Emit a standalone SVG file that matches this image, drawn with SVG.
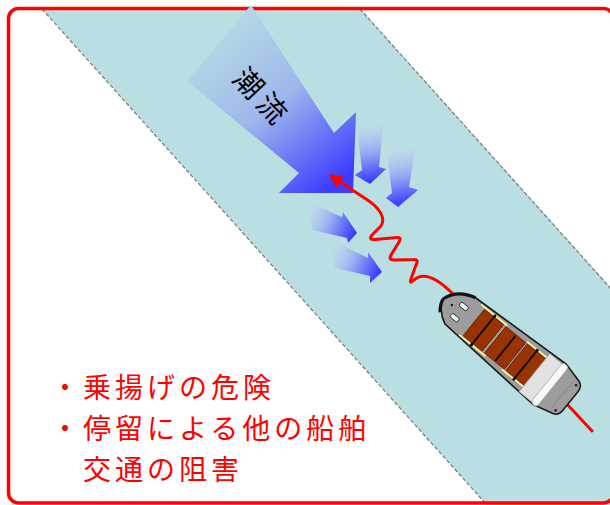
<svg xmlns="http://www.w3.org/2000/svg" width="610" height="505" viewBox="0 0 610 505">
  <defs>
    <style>
      .edge { fill: none; stroke: #808080; stroke-width: 1.3; stroke-dasharray: 4 2; }
      .route { fill: none; stroke: #ff0000; stroke-width: 3; stroke-linejoin: round; stroke-linecap: round; }
      .eddy { filter: url(#soft); }
      .note { font-family: "Noto Sans CJK JP", "Noto Sans", sans-serif; font-size: 28px; letter-spacing: 4px; fill: #ff0000; }
      .label { font-family: "Noto Sans CJK JP", "Noto Sans", sans-serif; font-size: 29px; letter-spacing: 5px; fill: #000; }
      .hatch { fill: #993300; stroke: #6e1a00; stroke-width: 0.8; }
      .rail { stroke: #ffff99; stroke-width: 1.5; stroke-linecap: round; }
      .beam { stroke: #000; stroke-width: 1.6; stroke-linecap: round; }
    </style>
    <linearGradient id="mainFlow" gradientUnits="userSpaceOnUse" x1="219" y1="43" x2="335" y2="185">
      <stop offset="0" stop-color="#b3d6e5"/>
      <stop offset="0.45" stop-color="#9db7ec"/>
      <stop offset="1" stop-color="#3c3cff"/>
    </linearGradient>
    <linearGradient id="flowDown" x1="0" y1="0" x2="0.1" y2="1">
      <stop offset="0" stop-color="#c4d6f2" stop-opacity="0.3"/>
      <stop offset="0.5" stop-color="#93a9f3"/>
      <stop offset="1" stop-color="#3c3cff"/>
    </linearGradient>
    <linearGradient id="flowRight" x1="0" y1="0.2" x2="1" y2="0.6">
      <stop offset="0" stop-color="#c4d6f2" stop-opacity="0.3"/>
      <stop offset="0.5" stop-color="#93a9f3"/>
      <stop offset="1" stop-color="#3c3cff"/>
    </linearGradient>
    <filter id="soft" x="-20%" y="-20%" width="140%" height="140%">
      <feGaussianBlur stdDeviation="0.6"/>
    </filter>
    <marker id="head" markerUnits="userSpaceOnUse" markerWidth="15" markerHeight="13" refX="11" refY="6.5" orient="auto">
      <path d="M0,0 L14,6.5 L0,13 Z" fill="#ff0000"/>
    </marker>
  </defs>

  <!-- navigation channel -->
  <g id="channel">
    <polygon points="42,8.5 360,8.5 612,289 612,505 487,505" fill="#badfe3"/>
    <line class="edge" x1="42" y1="9" x2="487" y2="505"/>
    <line class="edge" x1="360" y1="9" x2="612" y2="290"/>
  </g>

  <!-- frame -->
  <g id="frame">
    <rect x="8.5" y="8.5" width="605" height="494.5" rx="10" fill="none" stroke="#ff0000" stroke-width="3.5"/>
  </g>

  <!-- main tidal current -->
  <g id="current">
    <polygon points="251,5 334,133 356,112 353,193 279,193 299,173 187,81" fill="url(#mainFlow)"/>
    <text class="label" transform="translate(262,94) rotate(47)" x="2.5" y="0" text-anchor="middle" dominant-baseline="central">潮流</text>
  </g>

  <!-- local eddies -->
  <g id="eddies">
    <polygon class="eddy" points="357,128 383,126 379,167 386,169 370,184 355,175 362,170" fill="url(#flowDown)"/>
    <polygon class="eddy" points="387,153 415,150 409,187 418,190 398,207 386,198 392,193" fill="url(#flowDown)"/>
    <polygon class="eddy" points="308,202 342,217 343,212 357,233 348,243 347,238 312,230" fill="url(#flowRight)"/>
    <polygon class="eddy" points="332,240 368,258 368,252 382,272 370,283 370,276 335,268" fill="url(#flowRight)"/>
  </g>

  <!-- drift track of the vessel -->
  <g id="connectors">
    <path class="route" marker-end="url(#head)" d="M592,431 L566,403 L453,294 C441,282 425,270 414,280 Q409,285 411,279 L416,265 Q419,259 414,259.5 L395,260 Q388,260.5 391,255 L399,242 Q402,237 397,237.5 L375,239.5 Q368,240 372,235 L381,226 C386,218 380,208 366,199 L331,176"/>
  </g>

  <!-- vessel -->
  <g id="ship" transform="translate(443,299) rotate(39) scale(1.02,1.1)">
    <path d="M0,0 C3,-9 10,-16 24,-19.5 L134,-24.5 L155,-19.5 Q160,-17.5 160,-12 L160,10 Q160,16.5 154.5,18 L134,23 L17,16.5 C8,13 2,6 0,0 Z" fill="#9c9c9c" stroke="#1a1a1a" stroke-width="1.5"/>
    <path d="M0,0 C3,-9 10,-16 24,-19.5 M0,0 C1,5 3,8 6,11" fill="none" stroke="#111" stroke-width="3"/>
    <rect x="16" y="-8.8" width="9" height="4.4" rx="1.6" fill="#e2f4f4" stroke="#222" stroke-width="0.8"/>
    <rect x="16" y="4.3" width="9" height="4.4" rx="1.6" fill="#e2f4f4" stroke="#222" stroke-width="0.8"/>
    <circle cx="10.5" cy="-0.8" r="1.1" fill="#111"/>
    <rect class="hatch" x="38" y="-16.5" width="24" height="31"/>
    <rect class="hatch" x="65" y="-16.5" width="25" height="31"/>
    <rect class="hatch" x="92" y="-16.5" width="24" height="31"/>
    <line class="rail" x1="33" y1="-18" x2="65" y2="-18"/>
    <line class="rail" x1="35" y1="16" x2="67" y2="16"/>
    <line class="rail" x1="91" y1="-18" x2="123" y2="-18"/>
    <line class="rail" x1="89" y1="16" x2="121" y2="16"/>
    <line class="beam" x1="50" y1="-17.5" x2="50" y2="16"/>
    <line class="beam" x1="78" y1="-15" x2="78" y2="13"/>
    <line class="beam" x1="103.5" y1="-17.5" x2="103.5" y2="16"/>
    <circle cx="50" cy="-17.5" r="1.5" fill="#000"/>
    <circle cx="50" cy="16" r="1.5" fill="#000"/>
    <circle cx="103.5" cy="-17.5" r="1.5" fill="#000"/>
    <circle cx="103.5" cy="16" r="1.5" fill="#000"/>
    <rect x="115" y="-22.5" width="22" height="44.5" fill="#e2e2e2" stroke="#8a8a8a" stroke-width="0.6"/>
    <rect x="130.5" y="-24" width="7.5" height="47" rx="3.5" fill="#f8f8f8" stroke="#9a9a9a" stroke-width="0.6"/>
    <line x1="150" y1="-17" x2="150" y2="16" stroke="#777" stroke-width="0.5"/>
    <circle cx="154.5" cy="-15.3" r="1.3" fill="#222"/>
    <circle cx="154.5" cy="14.2" r="1.3" fill="#222"/>
  </g>

  <!-- hazards -->
  <g id="notes">
    <text class="note">
      <tspan x="51" y="398">・乗揚げの危険</tspan>
      <tspan x="51" y="439">・停留による他の船舶</tspan>
      <tspan x="83" y="480">交通の阻害</tspan>
    </text>
  </g>
</svg>
